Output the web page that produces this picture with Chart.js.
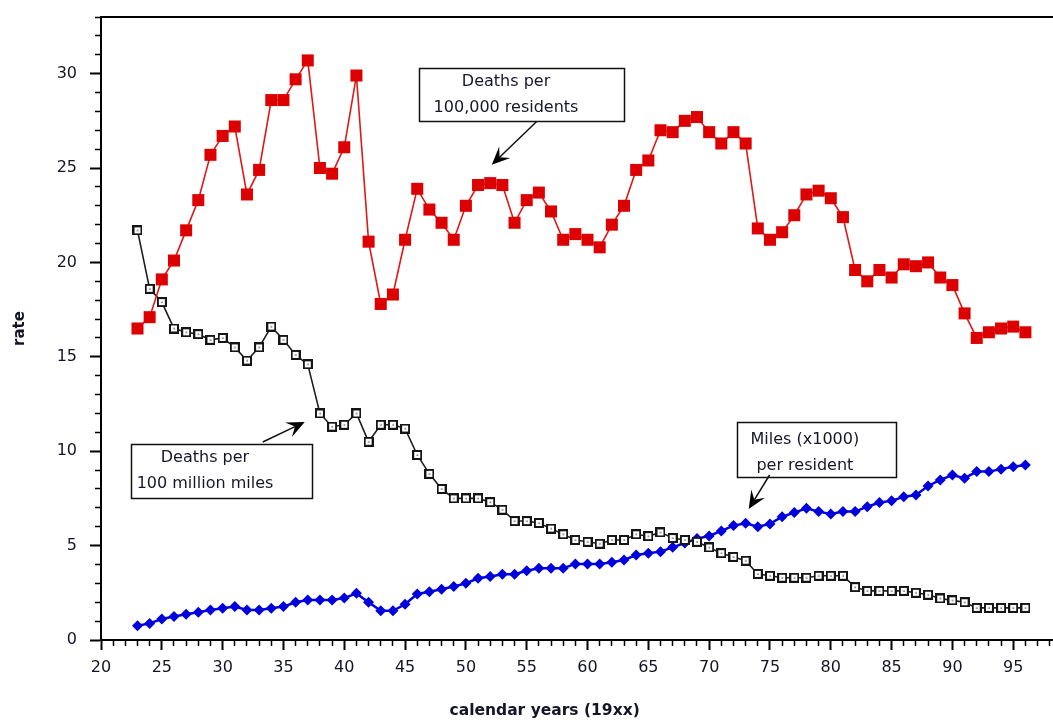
<!DOCTYPE html>
<html><head><meta charset="utf-8">
<script src="https://cdn.jsdelivr.net/npm/chart.js@4.4.0/dist/chart.umd.min.js"></script>
<style>html,body{margin:0;padding:0;background:#fff;overflow:hidden}#wrap{width:1053px;height:720px;position:relative}</style>
</head><body><div id="wrap"><canvas id="c"></canvas></div>
<script>
// ---- data (calendar years 19xx) ----
const years = [23,24,25,26,27,28,29,30,31,32,33,34,35,36,37,38,39,40,41,42,43,44,45,46,47,48,49,50,51,52,53,54,55,56,57,58,59,60,61,62,63,64,65,66,67,68,69,70,71,72,73,74,75,76,77,78,79,80,81,82,83,84,85,86,87,88,89,90,91,92,93,94,95,96];
const deathsPer100kResidents = [16.5,17.1,19.1,20.1,21.7,23.3,25.7,26.7,27.2,23.6,24.9,28.6,28.6,29.7,30.7,25.0,24.7,26.1,29.9,21.1,17.8,18.3,21.2,23.9,22.8,22.1,21.2,23.0,24.1,24.2,24.1,22.1,23.3,23.7,22.7,21.2,21.5,21.2,20.8,22.0,23.0,24.9,25.4,27.0,26.9,27.5,27.7,26.9,26.3,26.9,26.3,21.8,21.2,21.6,22.5,23.6,23.8,23.4,22.4,19.6,19.0,19.6,19.2,19.9,19.8,20.0,19.2,18.8,17.3,16.0,16.3,16.5,16.6,16.3];
const deathsPer100mMiles = [21.7,18.6,17.9,16.5,16.3,16.2,15.9,16.0,15.5,14.8,15.5,16.6,15.9,15.1,14.6,12.0,11.3,11.4,12.0,10.5,11.4,11.4,11.2,9.8,8.8,8.0,7.5,7.5,7.5,7.3,6.9,6.3,6.3,6.2,5.9,5.6,5.3,5.2,5.1,5.3,5.3,5.6,5.5,5.7,5.4,5.3,5.2,4.9,4.6,4.4,4.2,3.5,3.4,3.3,3.3,3.3,3.4,3.4,3.4,2.8,2.6,2.6,2.6,2.6,2.5,2.4,2.2,2.1,2.0,1.7,1.7,1.7,1.7,1.7];
const milesPerResident = [0.76,0.88,1.11,1.24,1.36,1.47,1.59,1.68,1.77,1.59,1.59,1.68,1.77,2.0,2.12,2.12,2.12,2.22,2.47,2.0,1.55,1.55,1.89,2.44,2.56,2.69,2.83,3.0,3.27,3.36,3.48,3.48,3.67,3.8,3.8,3.8,4.03,4.03,4.03,4.12,4.24,4.5,4.6,4.68,4.91,5.14,5.37,5.51,5.78,6.06,6.18,6.0,6.15,6.53,6.75,6.98,6.8,6.68,6.8,6.8,7.06,7.28,7.37,7.59,7.68,8.16,8.48,8.74,8.57,8.92,8.92,9.05,9.18,9.27];
const xTickLabels = ['20','25','30','35','40','45','50','55','60','65','70','75','80','85','90','95'];
const yTickLabels = ['0','5','10','15','20','25','30'];
const xTitle = 'calendar years (19xx)';
const yTitle = 'rate';
const noteTexts = [
  ['Deaths per', '100,000 residents'],
  ['Deaths per', '100 million miles'],
  ['Miles (x1000)', 'per resident']
];

// ---- placement of annotation boxes (data units) ----
const notePlacement = [
  {box:[46.13,30.31,62.97,27.52], textX:53.3, textY:[29.57,28.19], arrow:[55.8,27.45,52.13,25.17]},
  {box:[22.44,10.39,37.33,7.53], textX:28.55, textY:[9.64,8.27], arrow:[33.3,10.49,36.75,11.55]},
  {box:[72.26,11.55,85.34,8.64], textX:77.87, textY:[10.6,9.22], arrow:[74.97,8.74,73.25,6.94]}
];

const FONT = "'DejaVu Sans', sans-serif";
const X_MIN = 20, X_MAX = 98.27, Y_MIN = 0, Y_MAX = 33;

// hollow square marker with centre dot
const hollow = document.createElement('canvas');
hollow.width = 10; hollow.height = 10;
(function(){
  const g = hollow.getContext('2d');
  g.fillStyle = '#fff'; g.fillRect(0,0,10,10);
  g.strokeStyle = '#151515'; g.lineWidth = 2; g.strokeRect(1,1,8,8);
  g.fillStyle = '#333'; g.fillRect(4.5,4.5,1.3,1.3);
})();

function toXY(vals){ return years.map((yr,i)=>({x:yr, y:vals[i]})); }
function intTicks(min,max){ const a=[]; for(let v=Math.ceil(min); v<=Math.floor(max); v++) a.push({value:v}); return a; }
function noPad(s){ s.paddingTop = 0; s.paddingBottom = 0; s.paddingLeft = 0; s.paddingRight = 0; }

const notesPlugin = {
  id:'notes',
  afterDatasetsDraw(chart){
    const {ctx, scales:{x, y}} = chart;
    ctx.save();
    noteTexts.forEach((lines, i)=>{
      const p = notePlacement[i];
      const x1 = x.getPixelForValue(p.box[0]), y1 = y.getPixelForValue(p.box[1]);
      const x2 = x.getPixelForValue(p.box[2]), y2 = y.getPixelForValue(p.box[3]);
      ctx.fillStyle = '#fff';
      ctx.fillRect(x1, y1, x2-x1, y2-y1);
      ctx.lineWidth = 1.5; ctx.strokeStyle = '#111';
      ctx.strokeRect(Math.round(x1)+0.5, Math.round(y1)+0.5, Math.round(x2-x1), Math.round(y2-y1));
      ctx.fillStyle = '#16162a';
      ctx.font = "16px " + FONT;
      ctx.textAlign = 'center'; ctx.textBaseline = 'middle';
      lines.forEach((t, k)=>{
        ctx.fillText(t, x.getPixelForValue(p.textX), y.getPixelForValue(p.textY[k]));
      });
      const ax1 = x.getPixelForValue(p.arrow[0]), ay1 = y.getPixelForValue(p.arrow[1]);
      const ax2 = x.getPixelForValue(p.arrow[2]), ay2 = y.getPixelForValue(p.arrow[3]);
      const ang = Math.atan2(ay2-ay1, ax2-ax1);
      const L = 18, W = 8;
      const c = Math.cos(ang), s = Math.sin(ang);
      ctx.strokeStyle = '#111'; ctx.lineWidth = 1.5;
      ctx.beginPath(); ctx.moveTo(ax1, ay1); ctx.lineTo(ax2 - c*L*0.6, ay2 - s*L*0.6); ctx.stroke();
      ctx.fillStyle = '#000';
      ctx.beginPath();
      ctx.moveTo(ax2, ay2);
      ctx.lineTo(ax2 - c*L - s*W, ay2 - s*L + c*W);
      ctx.lineTo(ax2 - c*L*0.6, ay2 - s*L*0.6);
      ctx.lineTo(ax2 - c*L + s*W, ay2 - s*L - c*W);
      ctx.closePath(); ctx.fill();
    });
    ctx.restore();
  }
};

new Chart(document.getElementById('c'), {
  type:'line',
  data:{
    datasets:[
      {label:'Deaths per 100,000 residents', data:toXY(deathsPer100kResidents), borderColor:'#e01818', borderWidth:1.6,
       pointStyle:'rect', pointRadius:8.5, pointBackgroundColor:'#dc0000', pointBorderColor:'#dc0000', pointBorderWidth:0, tension:0},
      {label:'Deaths per 100 million miles', data:toXY(deathsPer100mMiles), borderColor:'#1e1e1e', borderWidth:1.6,
       pointStyle:hollow, pointRadius:5, tension:0},
      {label:'Miles (x1000) per resident', data:toXY(milesPerResident), borderColor:'#0000e0', borderWidth:2.5,
       pointStyle:'rectRot', pointRadius:5.5, pointBackgroundColor:'#0000dc', pointBorderColor:'#0000dc', pointBorderWidth:0, tension:0}
    ]
  },
  options:{
    responsive:true, maintainAspectRatio:false, animation:false,
    layout:{padding:0, autoPadding:false},
    plugins:{legend:{display:false}, tooltip:{enabled:false}, title:{display:false}},
    scales:{
      x:{
        type:'linear', position:'bottom', min:X_MIN, max:X_MAX,
        afterBuildTicks(s){ s.ticks = intTicks(X_MIN, X_MAX); },
        afterFit(s){ s.height = 80; noPad(s); },
        ticks:{autoSkip:false, maxRotation:0, padding:8, color:'#141428', font:{family:FONT, size:16},
          callback:(v)=> xTickLabels.includes(String(v)) ? String(v) : ''},
        grid:{drawOnChartArea:false, drawTicks:true, tickLength:10, tickColor:'#000',
          tickWidth:(c)=> (c.tick && c.tick.value%5===0) ? 2 : 1.5,
          tickBorderDash:(c)=> (c.tick && c.tick.value%5===0) ? [] : [5,100]},
        border:{display:true, color:'#000', width:2},
        title:{display:true, text:xTitle + '            ', color:'#141428', font:{family:FONT, size:15.5, weight:'bold'}, padding:{top:0,bottom:0}}
      },
      xTop:{
        type:'linear', position:'top', min:X_MIN, max:X_MAX,
        afterFit(s){ s.height = 17; noPad(s); },
        ticks:{display:false}, grid:{display:false},
        border:{display:true, color:'#000', width:2}
      },
      y:{
        type:'linear', position:'left', min:Y_MIN, max:Y_MAX,
        afterBuildTicks(s){ s.ticks = intTicks(Y_MIN, Y_MAX); },
        afterFit(s){ s.width = 101; noPad(s); },
        ticks:{autoSkip:false, padding:13, color:'#141428', font:{family:FONT, size:16},
          callback:(v)=> yTickLabels.includes(String(v)) ? String(v) : ''},
        grid:{drawOnChartArea:false, drawTicks:true, tickLength:11, tickColor:'#000',
          tickWidth:(c)=> (c.tick && c.tick.value%5===0) ? 2 : 1.5,
          tickBorderDash:(c)=> (c.tick && c.tick.value%5===0) ? [] : [0,5,6,100]},
        border:{display:true, color:'#000', width:2},
        title:{display:true, text:yTitle, color:'#141428', font:{family:FONT, size:15, weight:'bold'}, padding:{top:11,bottom:0}}
      }
    }
  },
  plugins:[notesPlugin]
});
</script></body></html>
